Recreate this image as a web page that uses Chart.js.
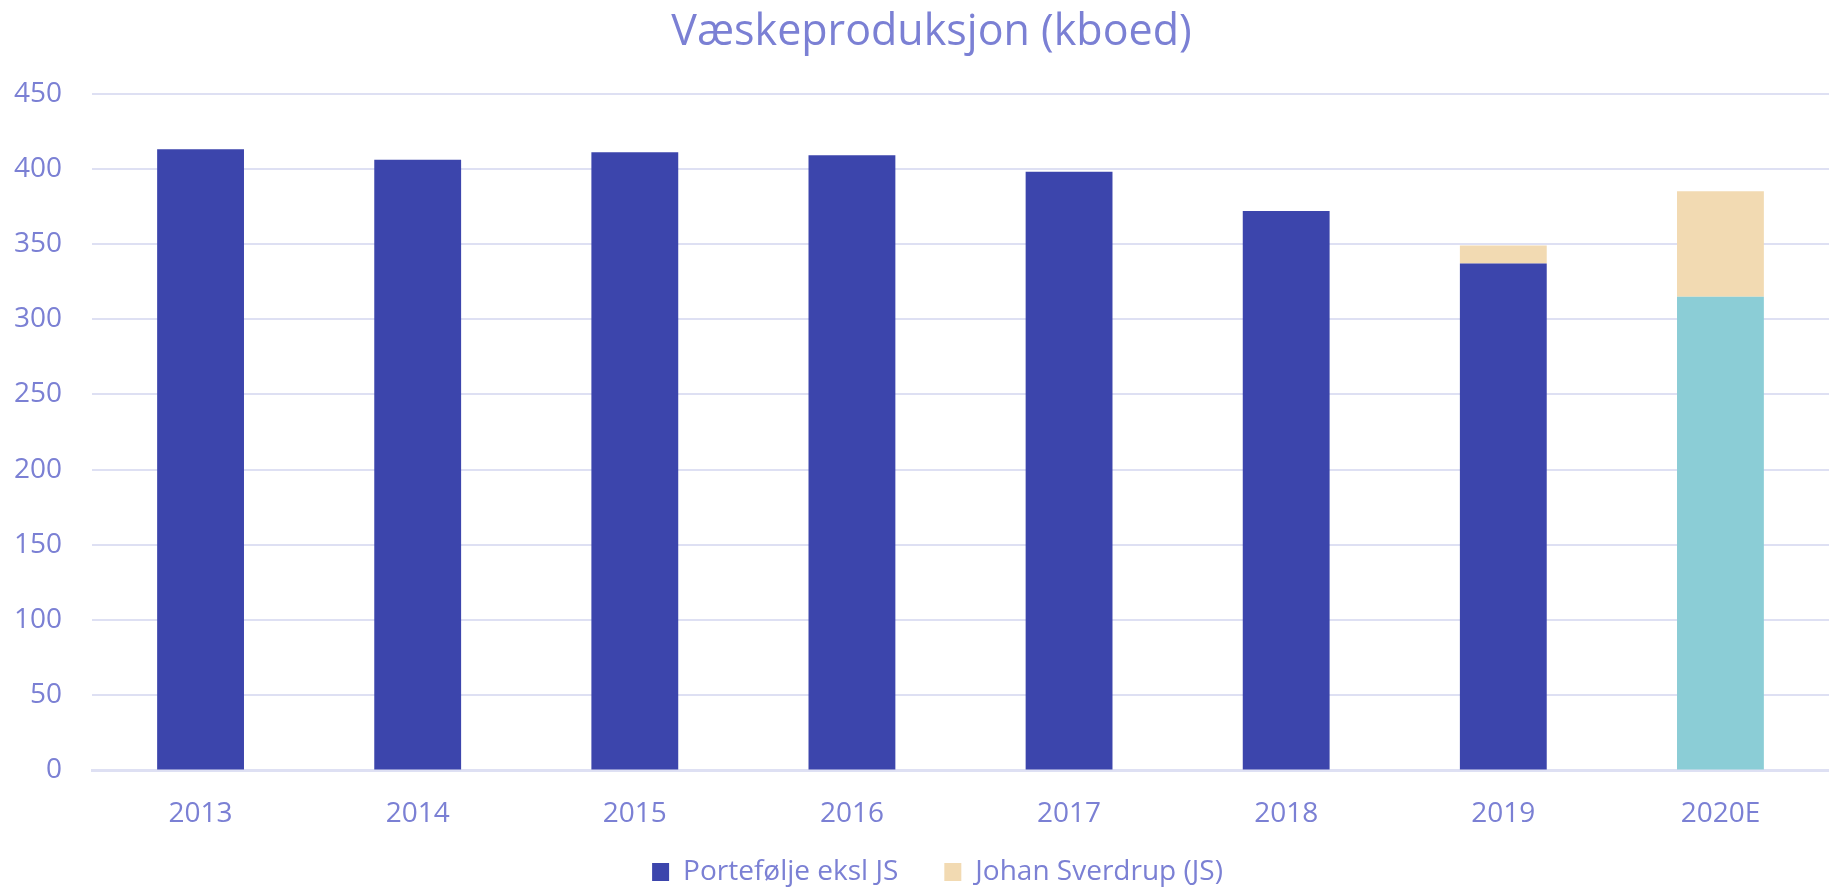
<!DOCTYPE html>
<html>
<head>
<meta charset="utf-8">
<script src="https://cdn.jsdelivr.net/npm/chart.js@4/dist/chart.umd.min.js"></script>
<style>
  html, body { margin: 0; padding: 0; background: #fff; }
  #wrap { width: 1829px; height: 889px; }
</style>
</head>
<body>
<div id="wrap"><canvas id="mychart"></canvas></div>
<script>
// values (kboed)
var years = ["2013", "2014", "2015", "2016", "2017", "2018", "2019", "2020E"]
var portefolje = [413, 406, 411, 409, 398, 372, 337, 315]
var sverdrup = [null, null, null, null, null, null, 12, 70]
var yTicks = [0, 50, 100, 150, 200, 250, 300, 350, 400, 450]

var blue = "#3C45AC"
var teal = "#8BCDD6"
var tan = "#F2DAB2"
var txt = "#7B80D4"
var grid = "#DEE0F3"

var barColors = years.map(function(y) { return y == "2020E" ? teal : blue })

Chart.defaults.font.family = "'Open Sans', sans-serif"
Chart.defaults.color = txt

// nudge title and legend a little, the original is not centred on the page
var nudge = {
  id: 'nudge',
  afterLayout: function(c) {
    c.titleBlock.left += 10
    c.titleBlock.right += 10
    c.legend.left += 16
    c.legend.right += 16
    c.legend.top -= 38
    c.legend.bottom -= 38
  }
}

var ctx = document.getElementById('mychart').getContext('2d')
var chart = new Chart(ctx, {
  type: 'bar',
  data: {
    labels: years,
    datasets: [
      {
        label: "Portefølje eksl JS",
        data: portefolje,
        backgroundColor: barColors,
        barPercentage: 0.4,
        categoryPercentage: 1
      },
      {
        label: "Johan Sverdrup (JS)",
        data: sverdrup,
        backgroundColor: tan,
        barPercentage: 0.4,
        categoryPercentage: 1
      }
    ]
  },
  plugins: [nudge],
  options: {
    responsive: true,
    maintainAspectRatio: false,
    animation: false,
    layout: { padding: { left: 14, right: 0, top: 0, bottom: -45 } },
    plugins: {
      title: {
        display: true,
        text: "Væskeproduksjon (kboed)",
        color: txt,
        font: { size: 43, weight: 'normal' },
        padding: { top: 7, bottom: 35 }
      },
      legend: {
        position: 'bottom',
        labels: {
          boxWidth: 17,
          boxHeight: 18,
          padding: 46,
          color: txt,
          font: { size: 28 },
          generateLabels: function(c) {
            var items = Chart.defaults.plugins.legend.labels.generateLabels(c)
            items[0].fillStyle = blue
            items[0].strokeStyle = blue
            items[1].strokeStyle = tan
            items.forEach(function(it) { it.lineWidth = 0 })
            return items
          }
        }
      },
      tooltip: { enabled: false }
    },
    scales: {
      x: {
        stacked: true,
        grid: { display: false },
        border: { color: grid, width: 3 },
        ticks: { color: txt, font: { size: 28 }, padding: 19 }
      },
      y: {
        stacked: true,
        min: 0,
        max: 450,
        afterBuildTicks: function(s) { s.ticks = yTicks.map(function(v) { return { value: v } }) },
        afterFit: function(s) { s.width = 78 },
        grid: { color: grid, lineWidth: 2, drawTicks: false },
        border: { display: false },
        ticks: { color: txt, font: { size: 28 }, padding: 30 }
      }
    }
  }
})
</script>
</body>
</html>
